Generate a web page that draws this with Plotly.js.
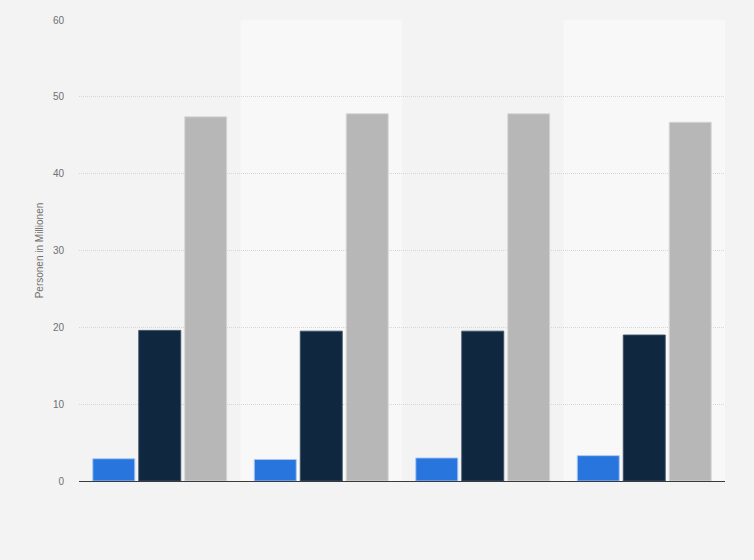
<!DOCTYPE html>
<html>
<head>
<meta charset="utf-8">
<script src="https://cdn.plot.ly/plotly-3.0.1.min.js"></script>
<style>html,body{margin:0;padding:0;background:#f3f3f3;}#chart{width:754px;height:560px;}</style>
</head>
<body>
<div id="chart"></div>
<script>
const categories = ["Gruppe 1", "Gruppe 2", "Gruppe 3", "Gruppe 4"];
const seriesNames = ["Serie A", "Serie B", "Serie C"];
const seriesA = [2.9, 2.8, 3.0, 3.3];
const seriesB = [19.6, 19.5, 19.5, 19.0];
const seriesC = [47.4, 47.8, 47.8, 46.7];
const yTicks = [0, 10, 20, 30, 40, 50, 60];
const yTitle = "Personen in Millionen";

const colors = ["#2876dd", "#0f2840", "#b7b7b7"];
const lineColors = ["rgba(170,200,245,0.9)", "rgba(60,80,100,0.9)", "rgba(215,215,215,0.9)"];
const vals = [seriesA, seriesB, seriesC];

const traces = vals.map((v, i) => ({
  type: "bar",
  x: categories,
  y: v,
  name: seriesNames[i],
  marker: {color: colors[i], line: {color: lineColors[i], width: 1}},
  hoverinfo: "y"
}));

const shapes = [1, 3].map(k => ({
  type: "rect", xref: "x", yref: "paper",
  x0: k - 0.5, x1: k + 0.5, y0: 0, y1: 1,
  fillcolor: "#f8f8f8", line: {width: 0}, layer: "below"
}));

const layout = {
  width: 754, height: 560,
  margin: {l: 79, r: 29, t: 20, b: 79},
  paper_bgcolor: "#f3f3f3",
  plot_bgcolor: "#f3f3f3",
  font: {family: "Liberation Sans, Arial, sans-serif", size: 10, color: "#666"},
  showlegend: false,
  barmode: "group",
  bargap: 0.146,
  bargroupgap: 0.087,
  shapes: shapes,
  xaxis: {
    type: "category",
    showticklabels: false,
    showgrid: false,
    showline: true,
    linecolor: "#3a3a3a",
    linewidth: 1,
    ticks: "",
    range: [-0.5, 3.5]
  },
  yaxis: {
    range: [0, 60],
    tickvals: yTicks,
    ticktext: yTicks.map(String),
    showgrid: true,
    gridcolor: "#d6d6d6",
    griddash: "1px,1px",
    gridwidth: 1,
    zeroline: false,
    showline: false,
    ticks: "",
    ticklabelstandoff: 14,
    tickfont: {size: 10, color: "#707070"},
    title: {text: yTitle, font: {size: 10, color: "#707070"}, standoff: 7}
  }
};

Plotly.newPlot("chart", traces, layout, {displayModeBar: false, staticPlot: true});
</script>
</body>
</html>
